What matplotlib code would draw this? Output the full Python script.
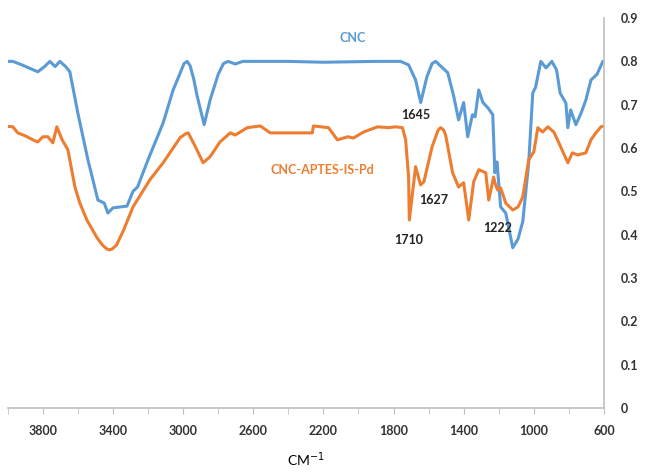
import numpy as np
import matplotlib
matplotlib.use("Agg")
import matplotlib.pyplot as plt
from matplotlib.ticker import MultipleLocator

# wavenumbers (cm-1) and absorbance
cnc_x = [4000, 3971, 3920, 3829, 3790, 3760, 3730, 3703, 3670, 3646, 3600, 3543, 3486,
         3450, 3429, 3400, 3320, 3286, 3260, 3200, 3114, 3057, 3020, 2995, 2977, 2960,
         2940, 2920, 2880, 2846, 2800, 2770, 2743, 2703, 2660, 2400, 2200, 1900, 1760,
         1714, 1674, 1645, 1610, 1580, 1560, 1491, 1457, 1429, 1400, 1377, 1350, 1335,
         1314, 1290, 1262, 1234, 1222, 1210, 1189, 1160, 1120, 1090, 1063, 1029, 1006,
         990, 960, 930, 897, 870, 850, 817, 806, 790, 760, 731, 703, 674, 640, 606, 600]
cnc_y = [0.80, 0.80, 0.792, 0.776, 0.788, 0.80, 0.788, 0.80, 0.788, 0.776, 0.68, 0.573,
         0.48, 0.473, 0.45, 0.462, 0.466, 0.50, 0.51, 0.573, 0.658, 0.734, 0.77, 0.795,
         0.80, 0.79, 0.76, 0.72, 0.654, 0.711, 0.77, 0.795, 0.80, 0.794, 0.80, 0.80, 0.798,
         0.80, 0.80, 0.792, 0.757, 0.705, 0.764, 0.795, 0.80, 0.774, 0.72, 0.665, 0.705,
         0.626, 0.677, 0.672, 0.734, 0.705, 0.693, 0.677, 0.543, 0.568, 0.464, 0.45, 0.37,
         0.39, 0.43, 0.566, 0.727, 0.74, 0.80, 0.785, 0.80, 0.78, 0.727, 0.704, 0.647,
         0.688, 0.654, 0.68, 0.711, 0.757, 0.77, 0.80, 0.80]

pd_x = [4000, 3971, 3943, 3900, 3857, 3829, 3800, 3771, 3743, 3720, 3690, 3657, 3617,
        3589, 3549, 3491, 3460, 3435, 3420, 3405, 3380, 3340, 3286, 3189, 3114, 3017,
        2985, 2971, 2930, 2886, 2846, 2790, 2731, 2703, 2634, 2560, 2503, 2400, 2263,
        2257, 2171, 2120, 2060, 2029, 1971, 1891, 1830, 1789, 1749, 1731, 1714, 1710,
        1674, 1646, 1627, 1580, 1545, 1531, 1515, 1503, 1463, 1429, 1400, 1371, 1343,
        1314, 1274, 1257, 1229, 1222, 1206, 1189, 1160, 1120, 1090, 1063, 1029, 1000,
        977, 950, 920, 886, 857, 806, 780, 750, 703, 674, 646, 617, 600]
pd_y = [0.65, 0.649, 0.635, 0.628, 0.619, 0.614, 0.626, 0.626, 0.612, 0.649, 0.619,
        0.596, 0.51, 0.473, 0.434, 0.393, 0.376, 0.367, 0.365, 0.367, 0.376, 0.41, 0.464,
        0.527, 0.566, 0.624, 0.633, 0.635, 0.603, 0.566, 0.58, 0.614, 0.635, 0.63, 0.647,
        0.651, 0.635, 0.635, 0.635, 0.651, 0.647, 0.619, 0.626, 0.623, 0.637, 0.649,
        0.647, 0.649, 0.647, 0.619, 0.533, 0.434, 0.557, 0.515, 0.522, 0.603, 0.642,
        0.647, 0.642, 0.63, 0.543, 0.51, 0.52, 0.434, 0.522, 0.55, 0.543, 0.48, 0.533,
        0.52, 0.503, 0.508, 0.473, 0.457, 0.464, 0.487, 0.573, 0.591, 0.647, 0.637,
        0.649, 0.637, 0.612, 0.566, 0.589, 0.584, 0.589, 0.619, 0.635, 0.649, 0.651]

peak_labels = ["1645", "1627", "1710", "1222"]
peak_x = [1676, 1570, 1714, 1205]
peak_y = [0.677, 0.48, 0.388, 0.415]

BLUE = "#5b9bd5"
ORANGE = "#ed7d31"

plt.rcParams["font.family"] = ["Lato", "DejaVu Sans"]

fig = plt.figure(figsize=(6.48, 4.75), dpi=100)
ax = fig.add_axes([0.012, 0.141, 0.92, 0.821])

ax.plot(cnc_x, cnc_y, color=BLUE, lw=2.2, solid_joinstyle="round")
ax.plot(pd_x, pd_y, color=ORANGE, lw=2.2, solid_joinstyle="round")

ax.set_xlim(4000, 600)
ax.set_ylim(0, 0.9)

# axes look like excel: only right and bottom lines
for s in ["top", "left"]:
    ax.spines[s].set_visible(False)
for s in ["right", "bottom"]:
    ax.spines[s].set_color("#bfbfbf")
    ax.spines[s].set_linewidth(1.2)

ax.set_xticks(np.arange(3800, 599, -400))
ax.xaxis.set_minor_locator(MultipleLocator(200))
ax.tick_params(axis="x", which="both", direction="out", length=4, color="#bfbfbf",
               labelsize=9, pad=8)
ax.yaxis.tick_right()
ax.set_yticks(np.arange(0, 0.91, 0.1))
ax.set_yticklabels(["0"] + ["%.1f" % v for v in np.arange(0.1, 0.91, 0.1)])
ax.tick_params(axis="y", length=0, labelsize=9, pad=12)
for lab in ax.get_xticklabels() + ax.get_yticklabels():
    lab.set_fontweight("bold")
    lab.set_color("#333333")

ax.set_xlabel("CM$^{-1}$", fontsize=10, labelpad=10)

ax.text(2034, 0.854, "CNC", color=BLUE, fontsize=9, fontweight="bold", ha="center", va="center")
ax.text(2206, 0.55, "CNC-APTES-IS-Pd", color=ORANGE, fontsize=9, fontweight="bold",
        ha="center", va="center")
for t, xv, yv in zip(peak_labels, peak_x, peak_y):
    ax.text(xv, yv, t, fontsize=9, fontweight="bold", color="#222222", ha="center", va="center")

fig.savefig("out.png", dpi=100)
